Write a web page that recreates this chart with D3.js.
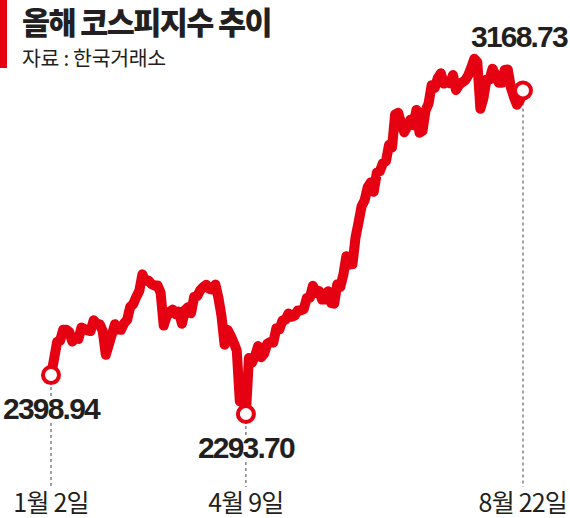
<!DOCTYPE html>
<html><head><meta charset="utf-8">
<script src="https://cdn.jsdelivr.net/npm/d3@7"></script>
<style>
html,body{margin:0;padding:0;background:#fff;}
svg{display:block;}
</style></head>
<body><svg id="c" width="570" height="518"></svg>
<script>
const title = "올해 코스피지수 추이";
const source = "자료 : 한국거래소";

// trading days (2025) and KOSPI closing values
const dates = [
"1/2","1/3","1/6","1/7","1/8","1/9","1/10","1/13","1/14","1/15","1/16","1/17","1/20","1/21","1/22","1/23","1/24","1/31",
"2/3","2/4","2/5","2/6","2/7","2/10","2/11","2/12","2/13","2/14","2/17","2/18","2/19","2/20","2/21","2/24","2/25","2/26","2/27","2/28",
"3/4","3/5","3/6","3/7","3/10","3/11","3/12","3/13","3/14","3/17","3/18","3/19","3/20","3/21","3/24","3/25","3/26","3/27","3/28","3/31",
"4/1","4/2","4/3","4/4","4/7","4/8","4/9","4/10","4/11","4/14","4/15","4/16","4/17","4/18","4/21","4/22","4/23","4/24","4/25","4/28","4/29","4/30",
"5/2","5/7","5/8","5/9","5/12","5/13","5/14","5/15","5/16","5/19","5/20","5/21","5/22","5/23","5/26","5/27","5/28","5/29","5/30",
"6/2","6/4","6/5","6/9","6/10","6/11","6/12","6/13","6/16","6/17","6/18","6/19","6/20","6/23","6/24","6/25","6/26","6/27","6/30",
"7/1","7/2","7/3","7/4","7/7","7/8","7/9","7/10","7/11","7/14","7/15","7/16","7/17","7/18","7/21","7/22","7/23","7/24","7/25","7/28","7/29","7/30","7/31",
"8/1","8/4","8/5","8/6","8/7","8/8","8/11","8/12","8/13","8/14","8/18","8/19","8/20","8/21","8/22"
];
const values = [
2398.94,2441.92,2488.64,2492.10,2521.90,2521.90,2515.78,2489.56,2497.98,2496.85,2527.49,2523.55,2520.05,2518.03,2547.06,2537.60,2536.80,2517.37,
2453.95,2481.69,2509.25,2536.75,2521.92,2521.27,2539.05,2548.39,2583.17,2591.05,2610.42,2626.81,2671.52,2654.06,2654.58,2645.27,2641.09,2641.10,2621.75,2532.78,
2558.13,2570.39,2576.16,2563.48,2570.61,2537.60,2574.82,2582.50,2566.41,2610.69,2612.34,2628.62,2637.10,2643.13,2632.27,2630.29,2643.94,2607.15,2557.98,2481.12,
2521.39,2505.86,2486.70,2465.42,2328.20,2334.23,2293.70,2445.06,2432.72,2450.14,2477.41,2447.14,2456.70,2483.42,2488.42,2486.64,2525.56,2522.33,2546.30,2548.86,2565.42,2556.61,
2559.79,2573.80,2573.80,2577.27,2607.33,2608.42,2640.57,2621.01,2626.87,2603.42,2603.42,2625.58,2593.67,2592.09,2644.40,2637.22,2670.39,2720.64,2697.67,
2698.97,2770.84,2812.05,2855.77,2871.85,2907.04,2920.03,2894.62,2946.66,2950.30,2972.29,2977.74,3021.84,3014.47,3103.64,3108.57,3079.56,3055.94,3071.70,
3089.65,3075.06,3116.27,3054.28,3059.47,3114.95,3133.74,3183.23,3175.77,3202.03,3215.28,3187.42,3192.29,3188.07,3210.81,3169.94,3183.80,3190.45,3196.05,3209.52,3230.57,3254.47,3245.44,
3119.41,3147.75,3198.00,3198.45,3227.68,3210.01,3189.91,3189.53,3224.37,3225.66,3177.28,3151.56,3130.09,3142.93,3168.73
];

const markDates  = ["1/2","4/9","8/22"];
const markLabels = ["2398.94","2293.70","3168.73"];
const markSide   = ["below","below","above"];
const tickLabels = ["1월 2일","4월 9일","8월 22일"];

const RED = "#e50012";
const svg = d3.select("#c");
const data = dates.map((d,i)=>({d, v: values[i]}));

const x = d3.scalePoint().domain(dates).range([51, 523]);
const y = d3.scaleLinear().domain([2293.70, 3168.73]).range([414, 90.5]);

// header
svg.append("rect").attr("x",0).attr("y",0).attr("width",7).attr("height",68).attr("fill",RED);
svg.append("text").attr("x",22).attr("y",34)
  .attr("font-family","'Noto Sans CJK KR'").attr("font-weight",900).attr("font-size",30.5)
  .attr("letter-spacing",-1.6).attr("fill","#231f20").text(title);
svg.append("text").attr("x",22).attr("y",66)
  .attr("font-family","'Noto Sans CJK KR'").attr("font-weight",400).attr("font-size",20.5)
  .attr("letter-spacing",-0.3).attr("fill","#231f20").text(source);

// dashed guide lines
markDates.forEach(d=>{
  const v = values[dates.indexOf(d)];
  svg.append("line").attr("x1",x(d)).attr("x2",x(d))
    .attr("y1",y(v)).attr("y2",487)
    .attr("stroke","#6d6e71").attr("stroke-width",1.3).attr("stroke-dasharray","3,3");
});

// line
svg.append("path").datum(data)
  .attr("fill","none").attr("stroke",RED).attr("stroke-width",10)
  .attr("stroke-linejoin","round").attr("stroke-linecap","round")
  .attr("d", d3.line().x(p=>x(p.d)).y(p=>y(p.v)));

// markers + value labels
markDates.forEach((d,i)=>{
  const v = values[dates.indexOf(d)];
  const cx = x(d), cy = y(v);
  svg.append("circle").attr("cx",cx).attr("cy",cy).attr("r",8)
    .attr("fill","#fff").attr("stroke",RED).attr("stroke-width",4);
  const by = markSide[i]==="below" ? cy+44 : cy-44;
  const g = svg.append("g");
  const t = g.append("text").attr("x",cx).attr("y",by).attr("text-anchor","middle")
    .attr("font-family","'Liberation Sans', Arial, sans-serif").attr("font-weight",700)
    .attr("font-size",30).attr("letter-spacing",-1.8).attr("fill","#231f20").text(markLabels[i]);
  const bb = t.node().getBBox();
  if (bb.x + bb.width > 568) t.attr("x", cx - (bb.x + bb.width - 568));
  const bb2 = t.node().getBBox();
  g.insert("rect","text").attr("x",bb2.x).attr("y",bb2.y+4).attr("width",bb2.width).attr("height",bb2.height-8).attr("fill","#fff");
});

// tick labels
markDates.forEach((d,i)=>{
  const t = svg.append("text").attr("x",x(d)).attr("y",512).attr("text-anchor","middle")
    .attr("font-family","'Noto Sans CJK KR'").attr("font-size",25).attr("letter-spacing",-0.8)
    .attr("fill","#231f20").text(tickLabels[i]);
  const bb = t.node().getBBox();
  if (bb.x + bb.width > 567) t.attr("x", x(d) - (bb.x + bb.width - 567));
});
</script></body></html>
